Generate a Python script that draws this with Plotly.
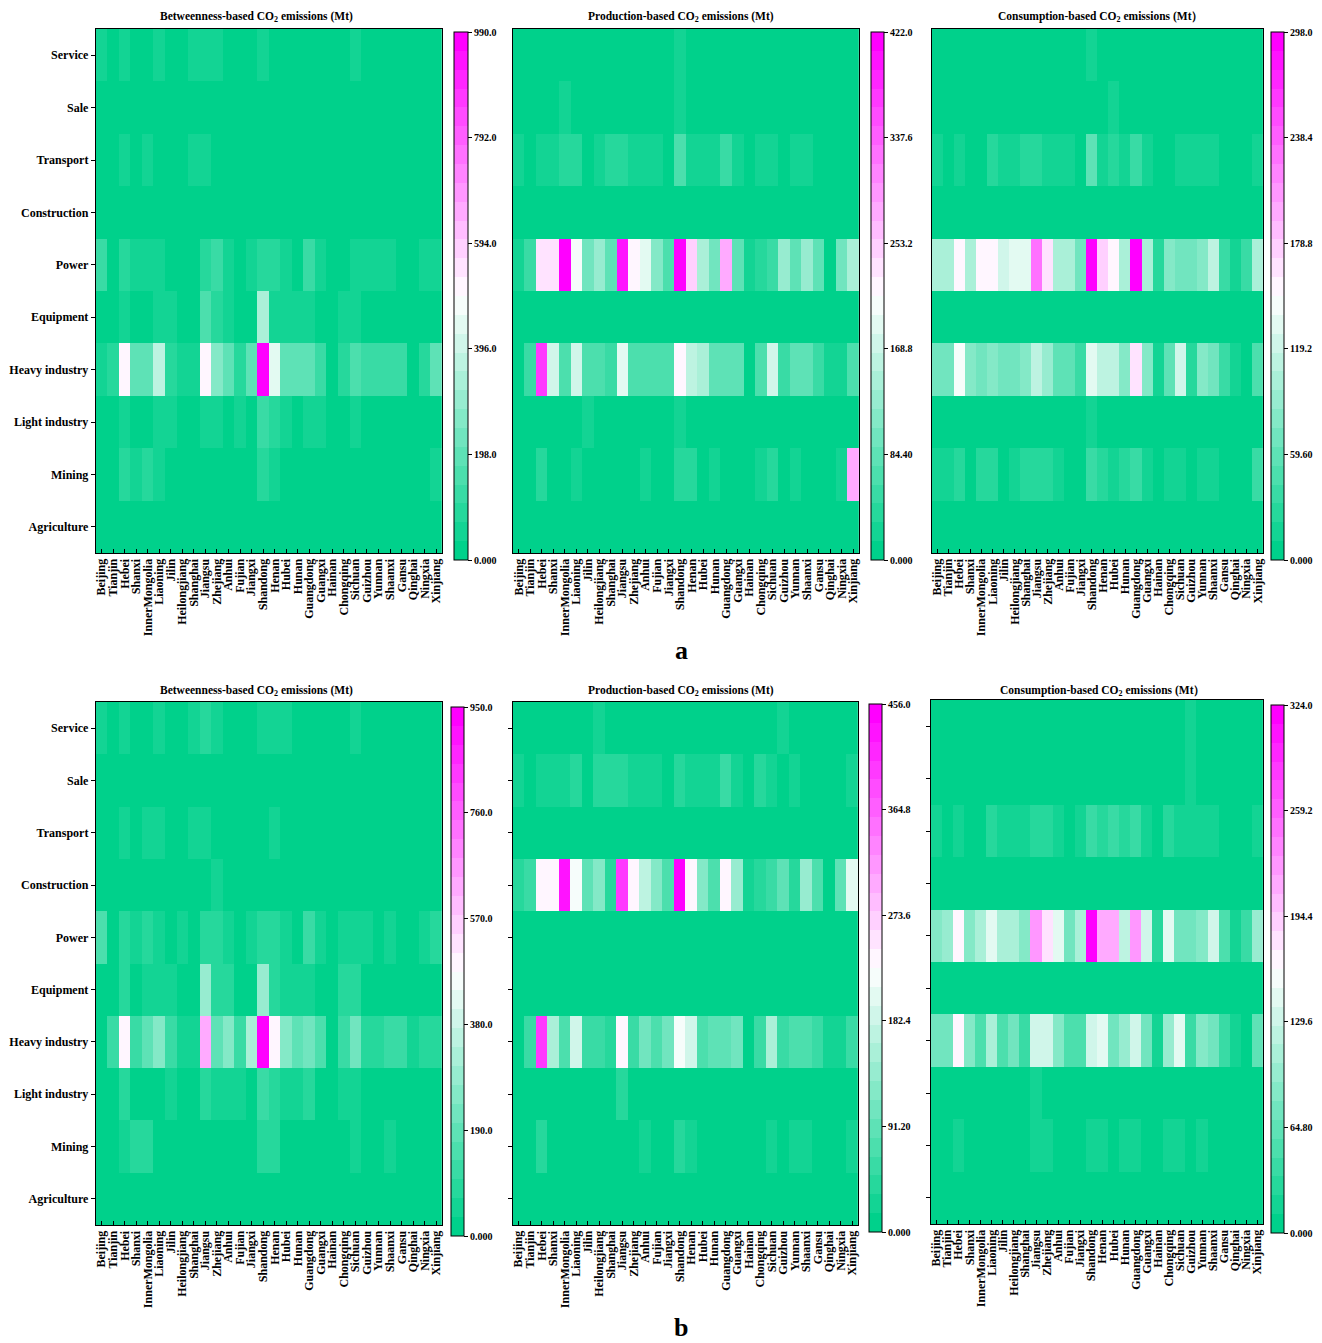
import plotly.graph_objects as go

W, H = 1322, 1343

provinces = ["Beijing", "Tianjin", "Hebei", "Shanxi", "InnerMongolia", "Liaoning", "Jilin",
             "Heilongjiang", "Shanghai", "Jiangsu", "Zhejiang", "Anhui", "Fujian", "Jiangxi",
             "Shandong", "Henan", "Hubei", "Hunan", "Guangdong", "Guangxi", "Hainan",
             "Chongqing", "Sichuan", "Guizhou", "Yunnan", "Shaanxi", "Gansu", "Qinghai",
             "Ningxia", "Xinjiang"]

# rows listed top to bottom
sectors = ["Service", "Sale", "Transport", "Construction", "Power", "Equipment",
           "Heavy industry", "Light industry", "Mining", "Agriculture"]

# ---- period a (Mt) ----
betweenness_a = [
    [45, 10, 45, 10, 10, 45, 10, 10, 45, 45, 45, 10, 10, 10, 45, 10, 10, 10, 10, 10, 10, 10, 45, 10, 10, 10, 10, 10, 10, 10],
    [12, 12, 12, 12, 12, 12, 12, 12, 12, 12, 12, 12, 12, 12, 12, 12, 12, 12, 12, 12, 12, 12, 12, 12, 12, 12, 12, 12, 12, 12],
    [10, 10, 45, 10, 45, 10, 10, 10, 45, 45, 10, 10, 10, 10, 10, 10, 10, 10, 10, 10, 10, 10, 10, 10, 10, 10, 10, 10, 10, 10],
    [14, 14, 14, 14, 14, 14, 14, 14, 14, 14, 14, 14, 14, 14, 14, 14, 14, 14, 14, 14, 14, 14, 14, 14, 14, 14, 14, 14, 14, 14],
    [130, 20, 85, 50, 70, 50, 20, 20, 25, 85, 115, 50, 20, 50, 85, 85, 50, 20, 130, 50, 20, 20, 50, 50, 50, 50, 20, 20, 50, 50],
    [15, 15, 60, 15, 15, 50, 50, 15, 15, 160, 100, 70, 15, 15, 320, 50, 50, 50, 50, 15, 15, 60, 50, 15, 15, 15, 15, 15, 15, 15],
    [60, 90, 520, 210, 210, 355, 100, 50, 65, 520, 268, 180, 90, 200, 985, 440, 195, 195, 210, 110, 20, 90, 170, 110, 110, 110, 110, 20, 90, 200],
    [15, 15, 50, 15, 15, 50, 50, 15, 15, 65, 65, 15, 50, 15, 120, 85, 50, 15, 65, 50, 15, 15, 50, 15, 15, 15, 15, 15, 15, 15],
    [15, 15, 90, 65, 85, 60, 15, 15, 15, 15, 15, 15, 15, 15, 90, 50, 15, 15, 15, 15, 15, 15, 15, 15, 15, 15, 15, 15, 15, 65],
    [12, 12, 12, 12, 12, 12, 12, 12, 12, 12, 12, 12, 12, 12, 12, 12, 12, 12, 12, 12, 12, 12, 12, 12, 12, 12, 12, 12, 12, 12],
]
production_a = [
    [5, 5, 5, 5, 5, 5, 5, 5, 5, 5, 5, 5, 5, 5, 20, 5, 5, 5, 5, 5, 5, 5, 5, 5, 5, 5, 5, 5, 5, 5],
    [5, 5, 5, 5, 20, 5, 5, 5, 5, 5, 5, 5, 5, 5, 20, 5, 5, 5, 5, 5, 5, 5, 5, 5, 5, 5, 5, 5, 5, 5],
    [20, 6, 22, 22, 35, 35, 6, 22, 35, 35, 22, 22, 22, 6, 62, 25, 25, 25, 60, 22, 6, 22, 22, 6, 22, 22, 6, 6, 6, 6],
    [5, 5, 5, 5, 5, 5, 5, 5, 5, 5, 5, 5, 5, 5, 5, 5, 5, 5, 5, 5, 5, 5, 5, 5, 5, 5, 5, 5, 5, 5],
    [30, 60, 240, 240, 415, 200, 105, 122, 78, 395, 225, 185, 118, 62, 420, 255, 140, 105, 275, 78, 28, 35, 60, 122, 78, 122, 78, 8, 105, 140],
    [5, 5, 5, 5, 5, 5, 5, 5, 5, 5, 5, 5, 5, 5, 5, 5, 5, 5, 5, 5, 5, 5, 5, 5, 5, 5, 5, 5, 5, 5],
    [8, 48, 365, 170, 75, 178, 72, 72, 50, 192, 75, 75, 70, 70, 211, 152, 140, 88, 88, 88, 8, 70, 172, 55, 78, 78, 55, 30, 30, 70],
    [5, 5, 5, 5, 5, 5, 20, 5, 5, 5, 5, 5, 5, 5, 20, 5, 5, 5, 5, 5, 5, 5, 5, 5, 5, 5, 5, 5, 5, 5],
    [5, 5, 35, 5, 5, 20, 5, 5, 5, 5, 5, 20, 5, 5, 42, 35, 5, 22, 5, 5, 5, 22, 32, 5, 22, 5, 5, 5, 20, 275],
    [5, 5, 5, 5, 5, 5, 5, 5, 5, 5, 5, 5, 5, 5, 5, 5, 5, 5, 5, 5, 5, 5, 5, 5, 5, 5, 5, 5, 5, 5],
]
consumption_a = [
    [4, 4, 4, 4, 4, 4, 4, 4, 4, 4, 4, 4, 4, 4, 14, 4, 4, 4, 4, 4, 4, 4, 4, 4, 4, 4, 4, 4, 4, 4],
    [4, 4, 4, 4, 4, 4, 4, 4, 4, 4, 4, 4, 4, 4, 4, 4, 14, 4, 4, 4, 4, 4, 4, 4, 4, 4, 4, 4, 4, 4],
    [15, 4, 15, 4, 4, 25, 18, 18, 25, 25, 18, 18, 18, 4, 54, 18, 25, 18, 40, 18, 4, 4, 18, 18, 18, 18, 4, 4, 4, 18],
    [4, 4, 4, 4, 4, 4, 4, 4, 4, 4, 4, 4, 4, 4, 4, 4, 4, 4, 4, 4, 4, 4, 4, 4, 4, 4, 4, 4, 4, 4],
    [106, 98, 158, 104, 158, 149, 118, 128, 138, 224, 160, 98, 106, 73, 296, 180, 158, 98, 290, 102, 22, 78, 64, 64, 75, 107, 40, 20, 32, 98],
    [4, 4, 4, 4, 4, 4, 4, 4, 4, 4, 4, 4, 4, 4, 4, 4, 4, 4, 4, 4, 4, 4, 4, 4, 4, 4, 4, 4, 4, 4],
    [68, 68, 143, 84, 64, 80, 64, 68, 75, 116, 90, 54, 54, 32, 134, 110, 110, 84, 167, 75, 20, 54, 122, 30, 75, 64, 32, 20, 6, 50],
    [4, 4, 4, 4, 4, 4, 4, 4, 4, 4, 4, 4, 4, 4, 14, 4, 4, 4, 4, 4, 4, 4, 4, 4, 4, 4, 4, 4, 4, 4],
    [18, 18, 25, 4, 25, 25, 4, 18, 22, 22, 22, 18, 4, 4, 40, 25, 18, 25, 35, 18, 4, 16, 16, 4, 16, 16, 4, 4, 4, 40],
    [4, 4, 4, 4, 4, 4, 4, 4, 4, 4, 4, 4, 4, 4, 4, 4, 4, 4, 4, 4, 4, 4, 4, 4, 4, 4, 4, 4, 4, 4],
]

# ---- period b (Mt) ----
betweenness_b = [
    [45, 10, 45, 10, 10, 45, 10, 10, 45, 75, 45, 10, 10, 10, 45, 45, 45, 10, 10, 10, 10, 10, 45, 10, 10, 10, 10, 10, 10, 10],
    [10, 10, 10, 10, 10, 10, 10, 10, 10, 10, 10, 10, 10, 10, 10, 10, 10, 10, 10, 10, 10, 10, 10, 10, 10, 10, 10, 10, 10, 10],
    [10, 10, 45, 10, 45, 45, 10, 10, 45, 45, 10, 10, 10, 10, 10, 45, 10, 10, 10, 10, 10, 10, 10, 10, 10, 10, 10, 10, 10, 10],
    [12, 12, 12, 12, 12, 12, 12, 12, 12, 12, 45, 12, 12, 12, 12, 12, 12, 12, 12, 12, 12, 12, 12, 12, 12, 12, 12, 12, 12, 12],
    [160, 20, 85, 55, 90, 45, 20, 45, 20, 75, 100, 55, 20, 45, 85, 75, 45, 20, 125, 45, 20, 55, 55, 55, 20, 55, 20, 20, 45, 75],
    [15, 15, 70, 15, 55, 55, 55, 15, 15, 275, 70, 100, 15, 15, 280, 100, 55, 55, 55, 15, 15, 70, 70, 15, 15, 15, 15, 15, 15, 15],
    [20, 125, 480, 125, 200, 265, 125, 55, 55, 620, 200, 270, 135, 310, 945, 505, 270, 200, 235, 150, 20, 125, 210, 100, 100, 135, 125, 45, 95, 95],
    [15, 15, 85, 15, 15, 15, 55, 15, 15, 100, 55, 55, 55, 20, 115, 70, 55, 55, 85, 15, 15, 45, 45, 15, 15, 15, 15, 15, 15, 15],
    [15, 15, 55, 75, 85, 15, 15, 15, 15, 15, 15, 15, 15, 15, 85, 85, 15, 15, 15, 15, 15, 15, 45, 15, 15, 45, 15, 15, 15, 15],
    [12, 12, 12, 12, 12, 12, 12, 12, 12, 12, 12, 12, 12, 12, 12, 12, 12, 12, 12, 12, 12, 12, 12, 12, 12, 12, 12, 12, 12, 12],
]
production_b = [
    [5, 5, 5, 5, 5, 5, 5, 22, 5, 5, 5, 5, 5, 5, 5, 5, 5, 5, 5, 5, 5, 5, 5, 22, 5, 5, 5, 5, 5, 5],
    [22, 5, 22, 22, 22, 35, 5, 35, 35, 35, 22, 22, 22, 5, 35, 22, 22, 22, 64, 22, 5, 35, 22, 5, 22, 5, 5, 5, 5, 22],
    [5, 5, 5, 5, 5, 5, 5, 5, 5, 5, 5, 5, 5, 5, 5, 5, 5, 5, 5, 5, 5, 5, 5, 5, 5, 5, 5, 5, 5, 5],
    [40, 64, 230, 230, 425, 215, 95, 118, 46, 400, 230, 178, 118, 70, 455, 228, 118, 80, 228, 135, 28, 35, 58, 95, 35, 135, 80, 8, 95, 210],
    [5, 5, 5, 5, 5, 5, 5, 5, 5, 5, 5, 5, 5, 5, 5, 5, 5, 5, 5, 5, 5, 5, 5, 5, 5, 5, 5, 5, 5, 5],
    [5, 5, 5, 5, 5, 5, 5, 5, 5, 5, 5, 5, 5, 5, 5, 5, 5, 5, 5, 5, 5, 5, 5, 5, 5, 5, 5, 5, 5, 5],
    [8, 60, 395, 155, 70, 193, 58, 58, 45, 240, 62, 98, 72, 98, 215, 182, 80, 82, 82, 105, 8, 62, 162, 52, 80, 80, 52, 30, 30, 62],
    [5, 5, 5, 5, 5, 5, 5, 5, 5, 35, 5, 5, 5, 5, 5, 5, 5, 5, 5, 5, 5, 5, 5, 5, 5, 5, 5, 5, 5, 5],
    [5, 5, 35, 5, 5, 5, 5, 5, 5, 5, 5, 22, 5, 5, 35, 28, 5, 5, 5, 5, 5, 5, 22, 5, 22, 22, 5, 5, 5, 22],
    [5, 5, 5, 5, 5, 5, 5, 5, 5, 5, 5, 5, 5, 5, 5, 5, 5, 5, 5, 5, 5, 5, 5, 5, 5, 5, 5, 5, 5, 5],
]
consumption_b = [
    [4, 4, 4, 4, 4, 4, 4, 4, 4, 4, 4, 4, 4, 4, 4, 4, 4, 4, 4, 4, 4, 4, 4, 14, 4, 4, 4, 4, 4, 4],
    [4, 4, 4, 4, 4, 4, 4, 4, 4, 4, 4, 4, 4, 4, 4, 4, 4, 4, 4, 4, 4, 4, 4, 14, 4, 4, 4, 4, 4, 4],
    [18, 4, 15, 4, 4, 24, 18, 18, 18, 24, 24, 18, 4, 15, 42, 26, 35, 24, 35, 18, 4, 24, 18, 18, 18, 18, 4, 4, 4, 18],
    [4, 4, 4, 4, 4, 4, 4, 4, 4, 4, 4, 4, 4, 4, 4, 4, 4, 4, 4, 4, 4, 4, 4, 4, 4, 4, 4, 4, 4, 4],
    [91, 94, 162, 88, 112, 140, 106, 106, 81, 230, 182, 150, 70, 106, 322, 210, 210, 116, 220, 134, 30, 150, 70, 70, 85, 130, 50, 20, 35, 98],
    [4, 4, 4, 4, 4, 4, 4, 4, 4, 4, 4, 4, 4, 4, 4, 4, 4, 4, 4, 4, 4, 4, 4, 4, 4, 4, 4, 4, 4, 4],
    [70, 70, 162, 85, 52, 115, 52, 74, 35, 136, 136, 85, 50, 50, 134, 142, 74, 94, 134, 74, 20, 94, 145, 35, 91, 70, 40, 22, 6, 60],
    [4, 4, 4, 4, 4, 4, 4, 4, 4, 14, 4, 4, 4, 4, 4, 4, 4, 4, 4, 4, 4, 4, 4, 4, 4, 4, 4, 4, 4, 4],
    [4, 4, 18, 4, 4, 4, 4, 4, 4, 18, 18, 4, 4, 4, 18, 18, 4, 18, 18, 4, 4, 18, 18, 4, 18, 4, 4, 4, 4, 4],
    [4, 4, 4, 4, 4, 4, 4, 4, 4, 4, 4, 4, 4, 4, 4, 4, 4, 4, 4, 4, 4, 4, 4, 4, 4, 4, 4, 4, 4, 4],
]

# colour-bar tick labels (bottom to top)
ticks_betweenness_a = ["0.000", "198.0", "396.0", "594.0", "792.0", "990.0"]
ticks_production_a = ["0.000", "84.40", "168.8", "253.2", "337.6", "422.0"]
ticks_consumption_a = ["0.000", "59.60", "119.2", "178.8", "238.4", "298.0"]
ticks_betweenness_b = ["0.000", "190.0", "380.0", "570.0", "760.0", "950.0"]
ticks_production_b = ["0.000", "91.20", "182.4", "273.6", "364.8", "456.0"]
ticks_consumption_b = ["0.000", "64.80", "129.6", "194.4", "259.2", "324.0"]

title_betweenness = "Betweenness-based CO<sub>2</sub> emissions (Mt)"
title_production = "Production-based CO<sub>2</sub> emissions (Mt)"
title_consumption = "Consumption-based CO<sub>2</sub> emissions (Mt\uff09"

# stepped green -> white -> magenta colour scale
GREEN = (0, 209, 139)
WHITE = (255, 255, 255)
MAGENTA = (255, 0, 255)
N_LEVELS = 28


def ramp(f):
    if f <= 0.5:
        a, b, t = GREEN, WHITE, f / 0.5
    else:
        a, b, t = WHITE, MAGENTA, (f - 0.5) / 0.5
    return "rgb(%d,%d,%d)" % tuple(round(a[i] + (b[i] - a[i]) * t) for i in range(3))


colorscale = []
for i in range(N_LEVELS):
    c = ramp(i / (N_LEVELS - 1))
    colorscale.append([i / N_LEVELS, c])
    colorscale.append([(i + 1) / N_LEVELS, c])

FONT = "Liberation Serif"

# panel geometry in pixels: heatmap box (x0, x1, y0, y1), colour bar (x0, width, y0, y1), title centre
panels = [
    dict(z=betweenness_a, ticks=ticks_betweenness_a, title=title_betweenness,
         box=(94, 441, 29, 553), cb=(453, 14, 32, 560), tx=255, ty=17, ylabels=True, yticks=True),
    dict(z=production_a, ticks=ticks_production_a, title=title_production,
         box=(512, 859, 29, 553), cb=(871, 13, 32, 560), tx=681, ty=17, ylabels=False, yticks=False),
    dict(z=consumption_a, ticks=ticks_consumption_a, title=title_consumption,
         box=(932, 1264, 29, 553), cb=(1272, 13, 32, 560), tx=1101, ty=17, ylabels=False, yticks=False),
    dict(z=betweenness_b, ticks=ticks_betweenness_b, title=title_betweenness,
         box=(94, 441, 702, 1225), cb=(450, 13, 707, 1236), tx=255, ty=691, ylabels=True, yticks=True),
    dict(z=production_b, ticks=ticks_production_b, title=title_production,
         box=(512, 858, 702, 1225), cb=(869, 13, 704, 1232), tx=681, ty=691, ylabels=False, yticks=True),
    dict(z=consumption_b, ticks=ticks_consumption_b, title=title_consumption,
         box=(931, 1264, 700, 1224), cb=(1272, 13, 705, 1233), tx=1104, ty=691, ylabels=False, yticks=True),
]

fig = go.Figure()
layout = dict(width=W, height=H, margin=dict(l=0, r=0, t=0, b=0),
              paper_bgcolor="white", plot_bgcolor="white", showlegend=False,
              font=dict(family=FONT, color="black"))
annotations = []

for k, p in enumerate(panels):
    n = "" if k == 0 else str(k + 1)
    x0, x1, y0, y1 = p["box"]
    cx, cw, cy0, cy1 = p["cb"]
    tickvals = [float(t) for t in p["ticks"]]
    fig.add_trace(go.Heatmap(
        z=p["z"], x=provinces, y=sectors,
        xaxis="x" + n, yaxis="y" + n,
        zmin=0, zmax=tickvals[-1], colorscale=colorscale,
        colorbar=dict(
            x=cx / W, xanchor="left", xpad=0,
            y=1 - cy0 / H, yanchor="top", ypad=0,
            len=cy1 - cy0, lenmode="pixels", thickness=cw, thicknessmode="pixels",
            outlinewidth=1, outlinecolor="black",
            tickmode="array", tickvals=tickvals, ticktext=p["ticks"],
            ticks="outside", ticklen=4, tickwidth=1, tickcolor="black",
            tickfont=dict(family=FONT, size=10, weight="bold", color="black"),
        ),
        hoverongaps=False,
    ))
    layout["xaxis" + n] = dict(
        domain=[x0 / W, x1 / W], anchor="y" + n,
        tickangle=-90, tickfont=dict(family=FONT, size=12, weight="bold", color="black"),
        ticks="inside", ticklen=4, tickcolor="black", tickwidth=1,
        showline=True, mirror=True, linecolor="black", linewidth=1,
        showgrid=False, zeroline=False, tickmode="array", tickvals=provinces,
    )
    layout["yaxis" + n] = dict(
        domain=[1 - y1 / H, 1 - y0 / H], anchor="x" + n,
        autorange="reversed", showticklabels=p["ylabels"],
        tickfont=dict(family=FONT, size=12, weight="bold", color="black"),
        ticks="outside" if p["yticks"] else "", ticklen=4, tickcolor="black", tickwidth=1,
        showline=True, mirror=True, linecolor="black", linewidth=1,
        showgrid=False, zeroline=False,
    )
    annotations.append(dict(
        text=p["title"], x=p["tx"] / W, y=1 - p["ty"] / H, xref="paper", yref="paper",
        xanchor="center", yanchor="middle", showarrow=False,
        font=dict(family=FONT, size=11.5, weight="bold", color="black"),
    ))

# period labels
annotations.append(dict(
    text="a", x=681 / W, y=1 - 650 / H, xref="paper", yref="paper",
    xanchor="center", yanchor="middle", showarrow=False, borderpad=0,
    font=dict(family=FONT, size=26, weight="bold", color="black"),
))
annotations.append(dict(
    text="b", x=681 / W, y=0, xref="paper", yref="paper",
    xanchor="center", yanchor="bottom", showarrow=False, borderpad=0,
    font=dict(family=FONT, size=26, weight="bold", color="black"),
))

layout["annotations"] = annotations
fig.update_layout(**layout)
fig.write_html("out.html")
